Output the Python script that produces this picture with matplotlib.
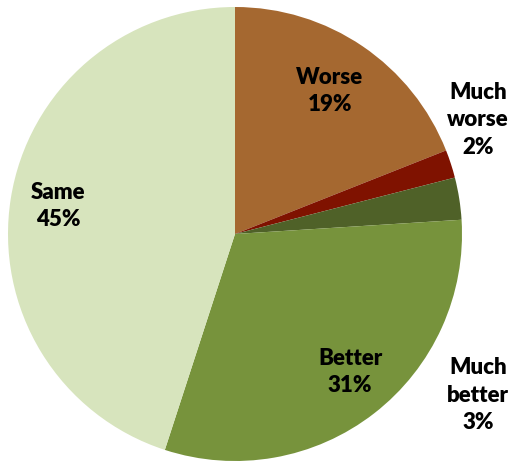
import numpy as np
import matplotlib.pyplot as plt

# survey answers, clockwise from 12 o'clock
labels = ['Worse', 'Much\nworse', 'Much\nbetter', 'Better', 'Same']
shares = [19, 2, 3, 31, 45]
colors = ['#A56830', '#7F1200', '#4F6128', '#77933C', '#D7E4BD']

# label centres in pixel coords (y measured from top)
label_xy = [(330, 91), (478, 120), (478, 395), (350, 372), (58, 206)]

W, H = 513, 466
fig = plt.figure(figsize=(W / 100, H / 100), dpi=100)
ax = fig.add_axes((0, 0, 1, 1))

cx, cy, r = 235, H - 234, 227
ax.pie(shares, colors=colors, startangle=90, counterclock=False,
       center=(cx, cy), radius=r, frame=True,
       wedgeprops=dict(linewidth=0))
ax.set_xlim(0, W)
ax.set_ylim(0, H)
ax.set_aspect('equal')
ax.axis('off')

for lab, v, (x, y) in zip(labels, shares, label_xy):
    ax.text(x, H - y, '%s\n%d%%' % (lab, v), ha='center', va='center',
            fontsize=16, fontweight='heavy', family=['Lato', 'DejaVu Sans'],
            linespacing=1.4, color='black')

fig.savefig('out.png', dpi=100)
